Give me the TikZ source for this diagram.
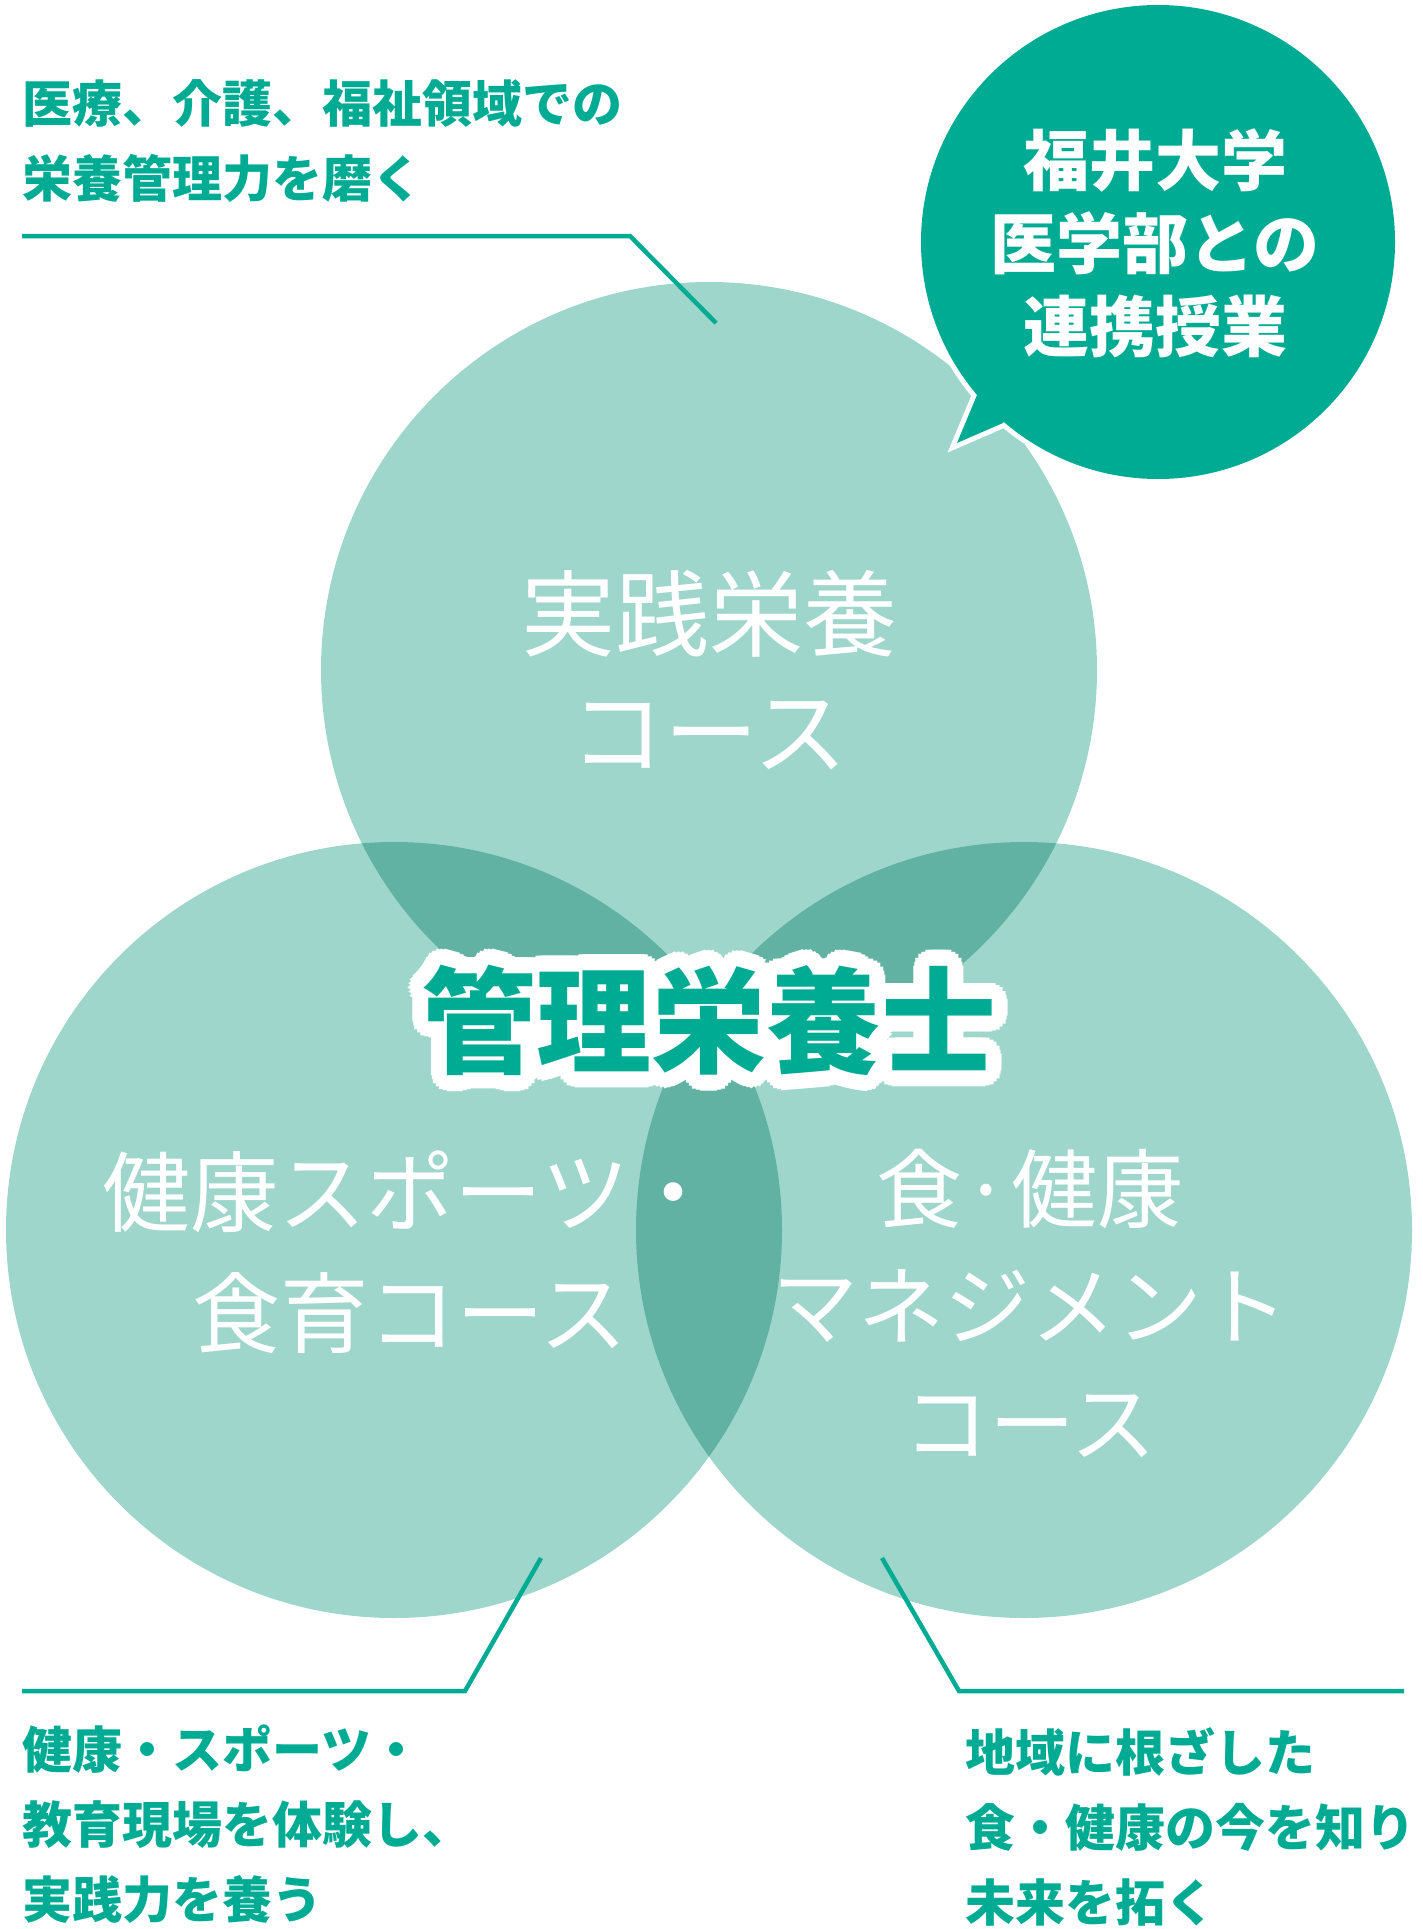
\documentclass[tikz,border=0pt]{standalone}
\usepackage{fontspec}
\setmainfont{Noto Sans CJK JP}
\definecolor{circlight}{HTML}{9ED6CC}
\definecolor{circdark}{HTML}{62B2A4}
\definecolor{fteal}{HTML}{00AB94}
\tikzset{
  leader/.style={fteal, line width=4.5pt},
  lbl/.style={fteal, font=\bfseries\fontsize{50}{75}\selectfont, align=left, anchor=west},
  coursetxt/.style={white, align=center},
  bubtxt/.style={white, font=\bfseries\fontsize{66}{83}\selectfont, align=center},
  titletxt/.style={font=\bfseries\fontsize{115}{130}\selectfont}
}
\begin{document}
\begin{tikzpicture}[x=1pt, y=-1pt, every node/.style={inner sep=0pt}]
		\useasboundingbox (0,0) rectangle (1422,1929);

		% Centres of the three courses
		\coordinate (ctop) at (709,670);
		\coordinate (cleft) at (394,1230);
		\coordinate (cright) at (1024,1230);

		% Draw the circles
		\fill[circlight] (ctop) circle (388pt);
		\fill[circlight] (cleft) circle (388pt);
		\fill[circlight] (cright) circle (388pt);

		% Draw the overlaps
		\begin{scope}
			\clip (ctop) circle (388pt);
			\fill[circdark] (cleft) circle (388pt);
			\fill[circdark] (cright) circle (388pt);
		\end{scope}
		\begin{scope}
			\clip (cleft) circle (388pt);
			\fill[circdark] (cright) circle (388pt);
		\end{scope}

		% Draw the speech bubble
		\coordinate (cbub) at (1158,242);
		\coordinate (tip) at (957,443);
		\coordinate (tailA) at (977,395);
		\coordinate (tailB) at (1003,423);
		\draw[white, line width=10pt] (cbub) circle (237pt);
		\draw[white, line width=10pt, line join=miter] (tailA) -- (tip) -- (tailB);
		\fill[fteal] (cbub) circle (237pt);
		\fill[fteal] (tailA) -- (tip) -- (tailB) -- (1030,380) -- cycle;

		\node[bubtxt] (fukui) at (1155,243) {福井大学\\医学部との\\連携授業};

		% Course names
		\node[coursetxt, font=\fontsize{94}{118}\selectfont] (jissen) at (709,670) {実践栄養\\コース};
		\node[coursetxt, font=\fontsize{88}{121}\selectfont] (kenko) at (410,1252) {健康スポーツ・\\食育コース};
		\node[coursetxt, font=\fontsize{86}{117}\selectfont] (shoku) at (1030,1303) {食·健康\\マネジメント\\コース};

		% Title with white halo
		\foreach \a in {0,15,...,345}
			\node[titletxt, white] at ([shift={(\a:16pt)}]709,1020) {管理栄養士};
		\node[titletxt, fteal] (title) at (709,1020) {管理栄養士};

		% Leader lines
		\coordinate (medA) at (22,236);
		\coordinate (medB) at (630,236);
		\coordinate (medC) at (716,323);
		\draw[leader] (medA) -- (medB) -- (medC);

		\coordinate (eduA) at (22,1691);
		\coordinate (eduB) at (465,1691);
		\coordinate (eduC) at (541,1558);
		\draw[leader] (eduA) -- (eduB) -- (eduC);

		\coordinate (locA) at (882,1558);
		\coordinate (locB) at (959,1691);
		\coordinate (locC) at (1404,1691);
		\draw[leader] (locA) -- (locB) -- (locC);

		% Labels
		\node[lbl] (medical) at (22,141) {医療、介護、福祉領域での\\栄養管理力を磨く};
		\node[lbl] (practice) at (22,1824) {健康・スポーツ・\\教育現場を体験し、\\実践力を養う};
		\node[lbl] (local) at (965,1827) {地域に根ざした\\食・健康の今を知り\\未来を拓く};

	\end{tikzpicture}
\end{document}
